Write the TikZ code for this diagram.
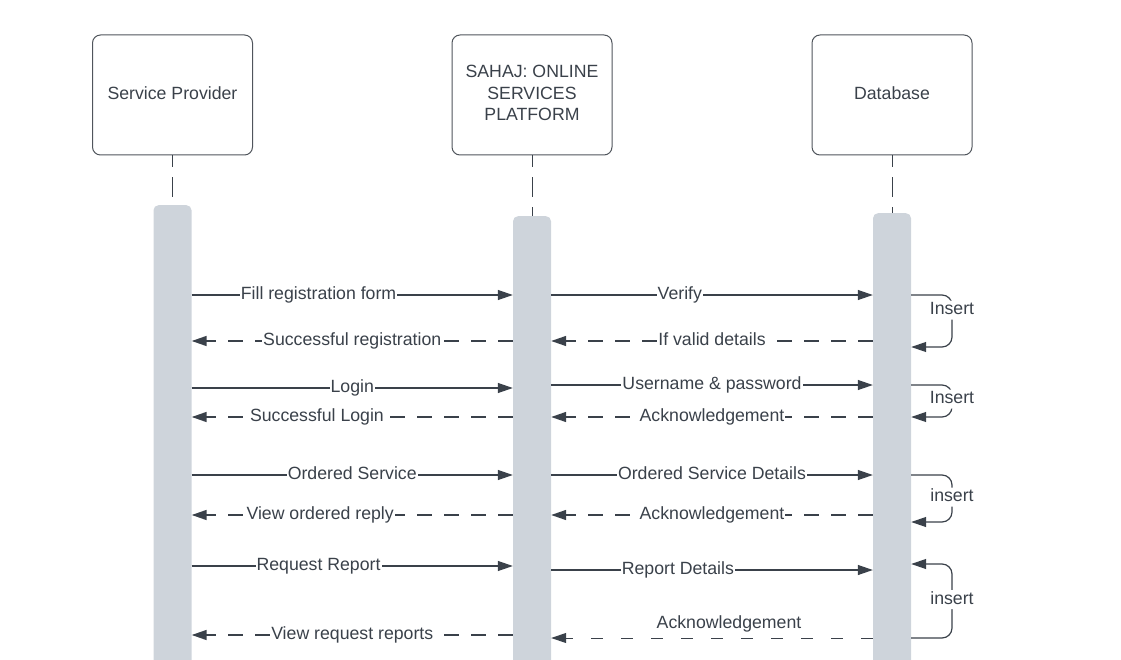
\documentclass[tikz,border=0pt]{standalone}
\usepackage{fontspec}
\setmainfont{Liberation Sans}
\usetikzlibrary{arrows.meta}
\definecolor{ink}{HTML}{3A414A}
\definecolor{barfill}{HTML}{CED4DB}
\definecolor{edge}{HTML}{50555C}

\begin{document}
\begin{tikzpicture}[x=1pt,y=-1pt,
  every node/.style={font=\fontsize{17.7}{21.5}\selectfont, text=ink},
  actor/.style={draw=edge, line width=1pt, rounded corners=8pt, minimum width=160pt, minimum height=120pt, align=center, text depth=3.5pt},
  bar/.style={fill=barfill, rounded corners=5pt, minimum width=38pt, minimum height=500pt, inner sep=0pt, anchor=north},
  lifeline/.style={draw=ink, line width=1pt, dash pattern=on 20pt off 10pt, dash phase=8pt},
  msg/.style={draw=ink, line width=1.2pt, -{Triangle[length=15pt,width=10pt]}},
  reply/.style={msg, line width=1.5pt, dash pattern=on 15pt off 12pt},
  selfloop/.style={msg, rounded corners=10pt},
  lbl/.style={fill=white, inner sep=1pt, text height=13pt, text depth=4pt}]
\useasboundingbox (0,0) rectangle (1121,660);

% participants
\node[actor] (sp) at (172.5,95) {Service Provider};
\node[actor] (sys) at (532,95) {SAHAJ: ONLINE\\SERVICES\\PLATFORM};
\node[actor] (db) at (892,95) {Database};

% activation bars
\node[bar] (spbar) at (172.5,205) {};
\node[bar] (sysbar) at (532,216) {};
\node[bar] (dbbar) at (892,213) {};

\draw[lifeline] (sp.south) -- (spbar.north);
\draw[lifeline] (sys.south) -- (sysbar.north);
\draw[lifeline] (db.south) -- (dbbar.north);

% message rows
\coordinate (r1) at (0,295);
\coordinate (r2) at (0,341);
\coordinate (r3) at (0,347);
\coordinate (r4) at (0,385);
\coordinate (r5) at (0,388);
\coordinate (r6) at (0,417);
\coordinate (r7) at (0,475);
\coordinate (r8) at (0,515);
\coordinate (r9) at (0,522);
\coordinate (r10) at (0,564);
\coordinate (r11) at (0,566);
\coordinate (r12) at (0,570);
\coordinate (r13) at (0,635);
\coordinate (r14) at (0,638);
\coordinate (dbloop) at (952,0);

% registration
\draw[msg] (spbar.east |- r1) -- node[lbl, pos=0.395] {Fill registration form} (sysbar.west |- r1);
\draw[msg] (sysbar.east |- r1) -- node[lbl, pos=0.4] {Verify} (dbbar.west |- r1);
\draw[selfloop] (dbbar.east |- r1) -- (dbloop |- r1) -- node[lbl, pos=0.29] {Insert} (dbloop |- r3) -- (dbbar.east |- r3);
\draw[reply] (sysbar.west |- r2) -- node[lbl, pos=0.5] {Successful registration} (spbar.east |- r2);
\draw[reply] (dbbar.west |- r2) -- node[lbl, pos=0.5] {If valid details} (sysbar.east |- r2);

% login
\draw[msg] (spbar.east |- r5) -- node[lbl, pos=0.5] {Login} (sysbar.west |- r5);
\draw[msg] (sysbar.east |- r4) -- node[lbl, pos=0.5] {Username \& password} (dbbar.west |- r4);
\draw[selfloop] (dbbar.east |- r4) -- (dbloop |- r4) -- node[lbl, pos=0.44] {Insert} (dbloop |- r6) -- (dbbar.east |- r6);
\draw[reply] (sysbar.west |- r6) -- node[lbl, pos=0.61] {Successful Login} (spbar.east |- r6);
\draw[reply] (dbbar.west |- r6) -- node[lbl, pos=0.5] {Acknowledgement} (sysbar.east |- r6);

% ordering
\draw[msg] (spbar.east |- r7) -- node[lbl, pos=0.5] {Ordered Service} (sysbar.west |- r7);
\draw[msg] (sysbar.east |- r7) -- node[lbl, pos=0.5] {Ordered Service Details} (dbbar.west |- r7);
\draw[selfloop] (dbbar.east |- r7) -- (dbloop |- r7) -- node[lbl, pos=0.47] {insert} (dbloop |- r9) -- (dbbar.east |- r9);
\draw[reply] (sysbar.west |- r8) -- node[lbl, pos=0.6] {View ordered reply} (spbar.east |- r8);
\draw[reply] (dbbar.west |- r8) -- node[lbl, pos=0.5] {Acknowledgement} (sysbar.east |- r8);

% reports
\draw[msg] (spbar.east |- r11) -- node[lbl, pos=0.395] {Request Report} (sysbar.west |- r11);
\draw[msg] (sysbar.east |- r12) -- node[lbl, pos=0.394] {Report Details} (dbbar.west |- r12);
\draw[selfloop] (dbbar.east |- r14) -- (dbloop |- r14) -- node[lbl, pos=0.52] {insert} (dbloop |- r10) -- (dbbar.east |- r10);
\draw[reply] (sysbar.west |- r13) -- node[lbl, pos=0.5] {View request reports} (spbar.east |- r13);
\draw[reply, line width=1pt, dash pattern=on 12pt off 18pt] (dbbar.west |- r14) -- node[lbl, fill=none, pos=0.447, above=4pt] {Acknowledgement} (sysbar.east |- r14);
\end{tikzpicture}
\end{document}
